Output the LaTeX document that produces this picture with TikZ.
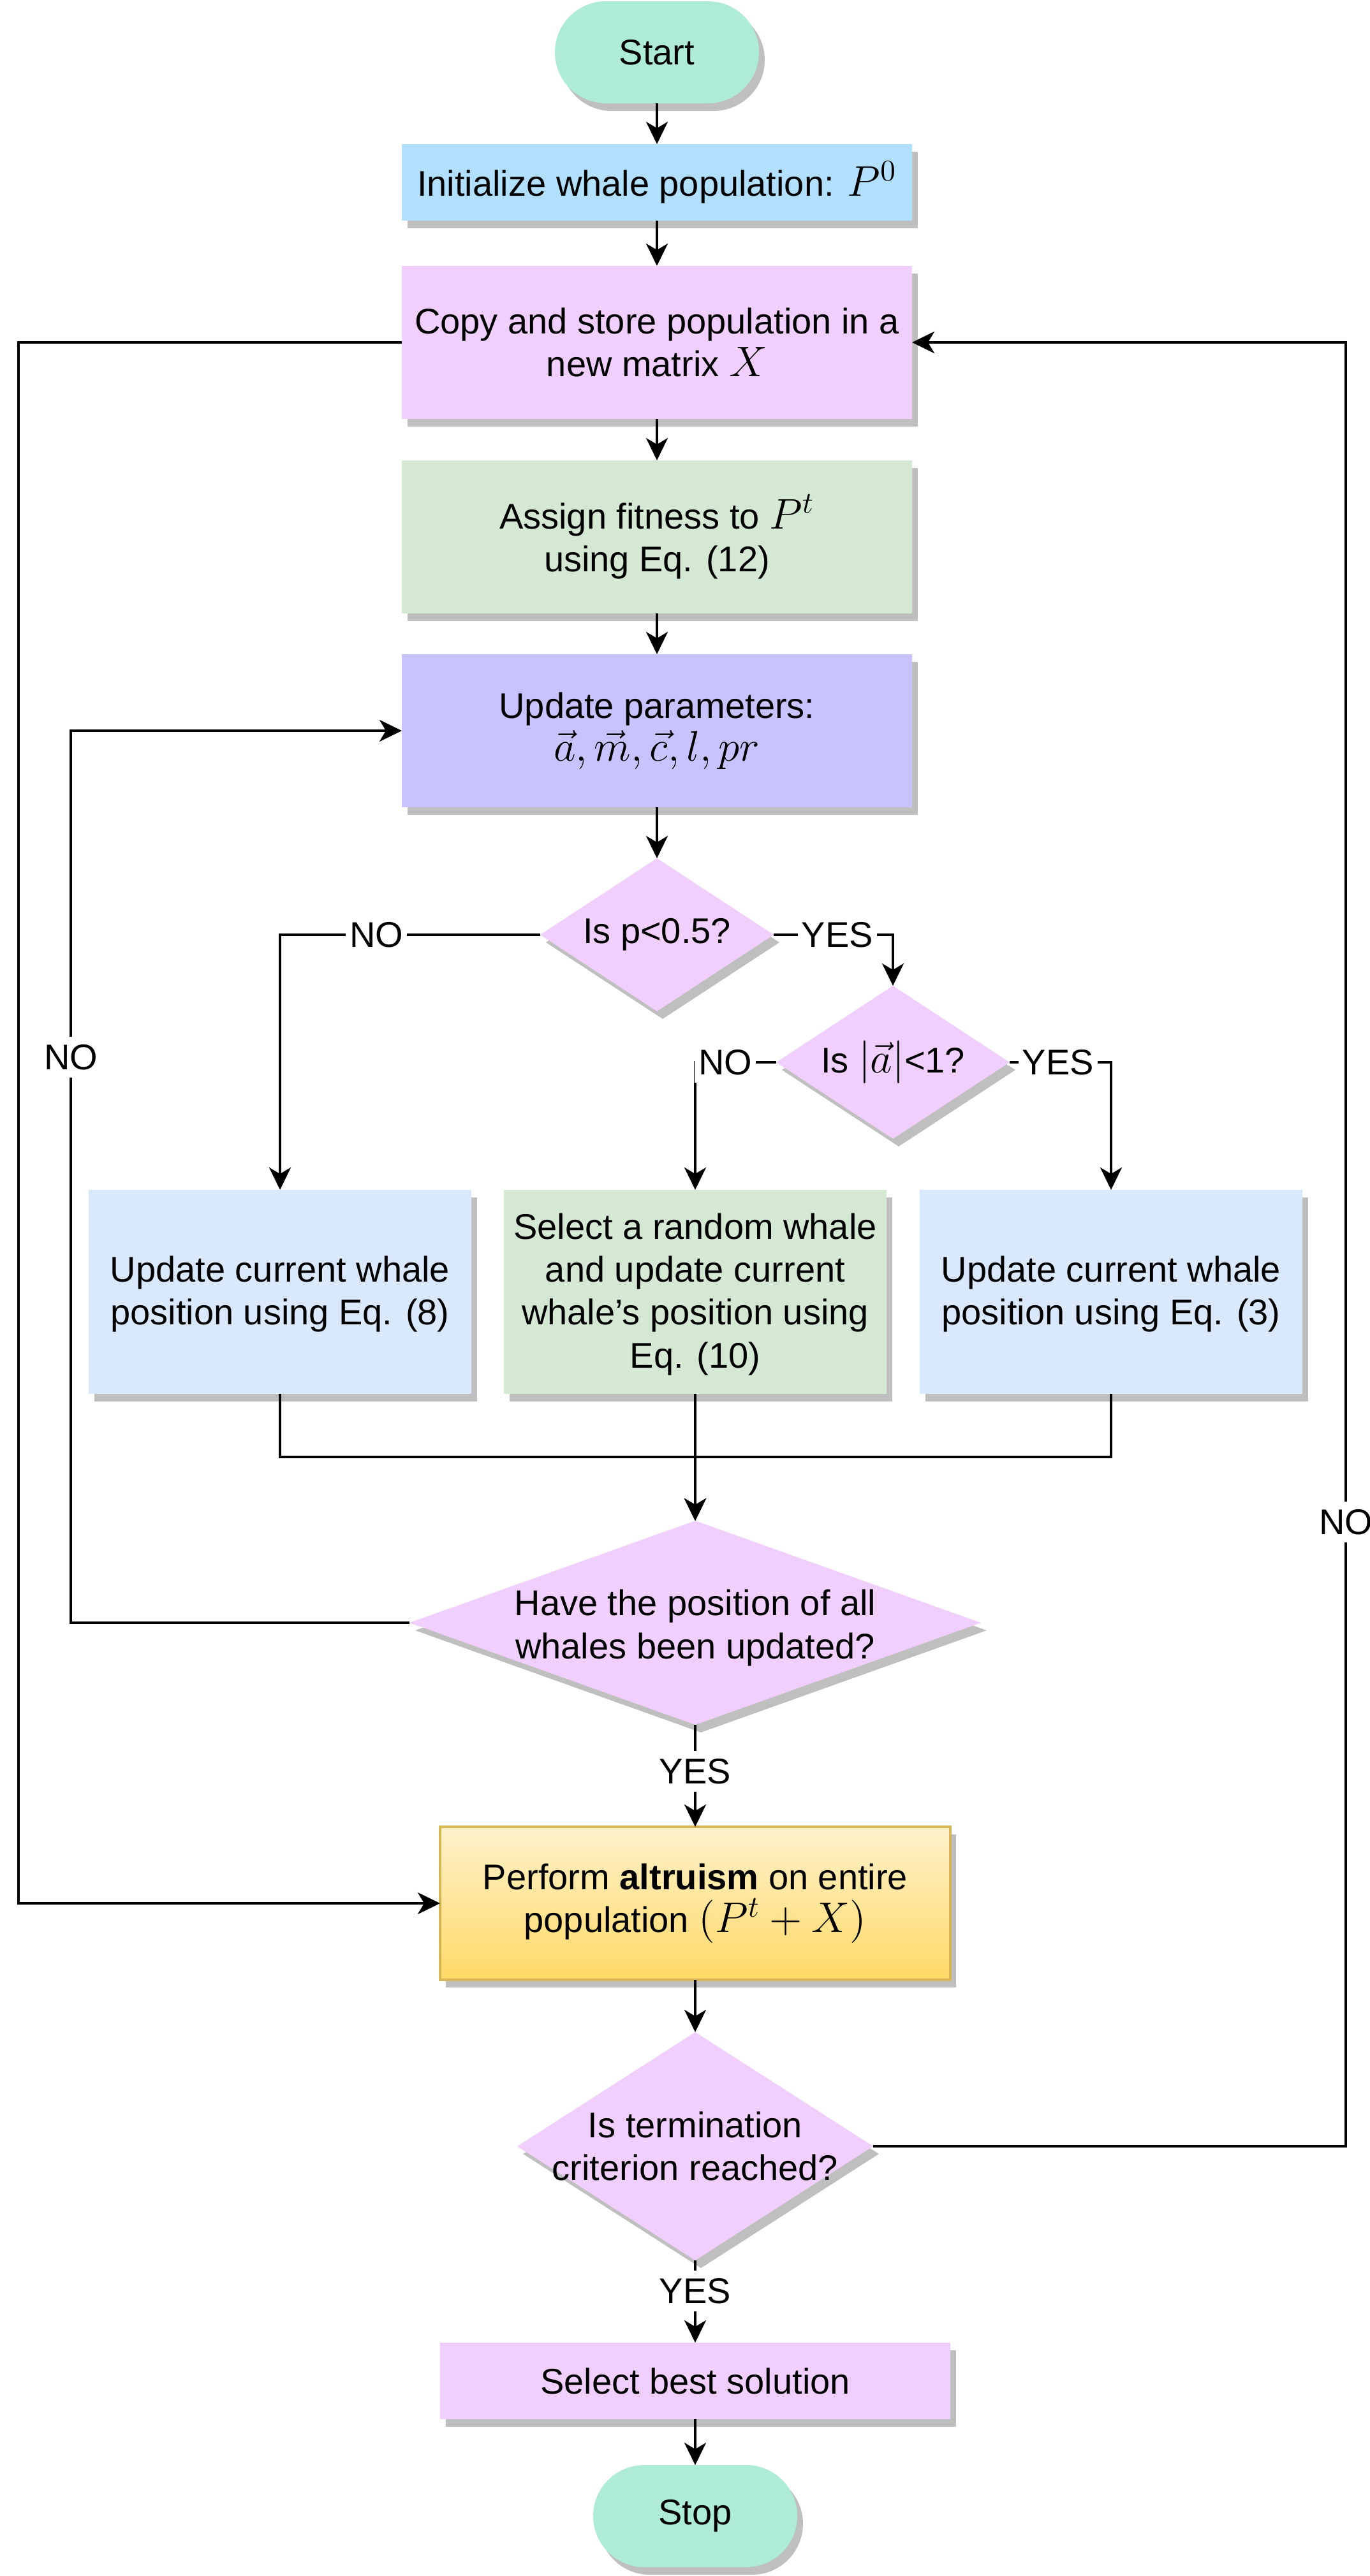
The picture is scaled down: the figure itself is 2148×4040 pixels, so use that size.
\RequirePackage{fix-cm}
\documentclass[tikz,border=0pt]{standalone}
\usepackage[no-math]{fontspec}
\setmainfont{Liberation Sans}
\usetikzlibrary{arrows.meta,shadows,shapes.geometric,shapes.misc}

\definecolor{mint}{HTML}{AEEBD9}
\definecolor{skyfill}{HTML}{B2DFFC}
\definecolor{lilac}{HTML}{F1CFFD}
\definecolor{sagefill}{HTML}{D5E8D4}
\definecolor{periwinkle}{HTML}{C8C3FC}
\definecolor{paleblue}{HTML}{DAE8FC}
\definecolor{goldtop}{HTML}{FFF2CC}
\definecolor{goldbottom}{HTML}{FFD966}
\definecolor{goldline}{HTML}{D6B656}
\definecolor{shadowgrey}{HTML}{BFBFBF}

% formulas are set a little larger than the sans text around them
\newcommand\mth[1]{{\fontsize{16.8pt}{16.8pt}\selectfont$#1$}}

\begin{document}
\begin{tikzpicture}[x=0.25pt,y=-0.25pt,
  font=\fontsize{14pt}{16.8pt}\selectfont,
  shadowed/.style={drop shadow={shadow xshift=2.25pt,shadow yshift=-3pt,fill=shadowgrey,opacity=1}},
  terminal/.style={rounded rectangle,fill=mint,minimum width=80pt,minimum height=40pt,inner sep=0pt,outer sep=0pt,shadowed},
  procbox/.style={rectangle,minimum width=200pt,minimum height=60pt,align=center,inner sep=0pt,outer sep=0pt,shadowed},
  posbox/.style={procbox,minimum width=150pt,minimum height=80pt},
  decision/.style={diamond,fill=lilac,inner sep=0pt,outer sep=0pt,shadowed},
  dtext/.style={align=center,inner sep=0pt},
  link/.style={line width=1pt,-{Stealth[length=8.75pt,width=8.5pt,inset=2.5pt]}},
  lbl/.style={fill=white,inner xsep=1.5pt,inner ysep=3pt}
]
\useasboundingbox (0,0) rectangle (2148,4040);

% main column
\node[terminal] (start) at (1030,82) {Start};
\node[procbox,fill=skyfill,minimum height=30pt] (init) at (1030,286) {Initialize whale population: \mth{P^0}};
\node[procbox,fill=lilac] (copy) at (1030,537) {Copy and store population in a\\new matrix \mth{X}};
\node[procbox,fill=sagefill] (fit) at (1030,842) {Assign fitness to \mth{P^t}\\using Eq. (12)};
\node[procbox,fill=periwinkle] (upd) at (1030,1146) {Update parameters:\\\mth{\vec{a}, \vec{m}, \vec{c}, l, pr}};

% decisions on p and |a|
\node[decision,minimum width=91.5pt,minimum height=60pt] (dp) at (1030,1466) {};
\node[dtext] (dpt) at (dp.center) {Is p<0.5?};
\node[decision,minimum width=91.5pt,minimum height=60pt] (da) at (1400,1666) {};
\node[dtext] (dat) at (da.center) {Is \mth{|\vec{a}|}<1?};

% position updates
\node[posbox,fill=paleblue,text depth=1pt] (encircle) at (439,2026) {Update current whale\\position using Eq. (8)};
\node[posbox,fill=sagefill,text depth=1pt] (search) at (1090,2026) {Select a random whale\\and update current\\whale's position using\\Eq. (10)};
\node[posbox,fill=paleblue,text depth=1pt] (spiral) at (1742,2026) {Update current whale\\position using Eq. (3)};

% all whales updated?
\node[decision,minimum width=224pt,minimum height=80pt] (dall) at (1090,2545) {};
\node[dtext,yshift=-2pt] (dallt) at (dall.center) {Have the position of all\\whales been updated?};

\node[procbox,top color=goldtop,bottom color=goldbottom,draw=goldline,line width=1pt] (alt) at (1090,2985) {Perform \textbf{altruism} on entire\\population \mth{(P^t+X)}};

\node[decision,minimum width=139.5pt,minimum height=89.5pt] (dend) at (1090,3366) {};
\node[dtext] (dendt) at (dend.center) {Is termination\\criterion reached?};

\node[procbox,fill=lilac,minimum height=30pt] (best) at (1090,3734) {Select best solution};
\node[terminal] (stop) at (1090,3946) {Stop};

% routing columns for the loops
\coordinate (outerx) at (29,0);
\coordinate (innerx) at (111,0);
\coordinate (rightx) at (2110,0);
\coordinate (merge) at (1090,2285);

% straight links
\draw[link] (start) -- (init);
\draw[link] (init) -- (copy);
\draw[link] (copy) -- (fit);
\draw[link] (fit) -- (upd);
\draw[link] (upd) -- (dp);

% branches
\draw[link] (dp.west) -| (encircle.north);
\draw[link] (dp.east) -| (da.north);
\draw[link] (da.west) -| (search.north);
\draw[link] (da.east) -| (spiral.north);

% merge into the check
\draw[link] (encircle.south) |- (merge) -- (dall.north);
\draw[link] (spiral.south) |- (merge) -- (dall.north);
\draw[link] (search.south) -- (dall.north);

% loops
\draw[link] (dall.west) -- (dall.west -| innerx) |- (upd.west);
\draw[link] (copy.west) -- (copy.west -| outerx) |- (alt.west);
\draw[link] (dend.east) -- (dend.east -| rightx) |- (copy.east);

\draw[link] (dall.south) -- (alt.north);
\draw[link] (alt) -- (dend.north);
\draw[link] (dend.south) -- (best.north);
\draw[link] (best) -- (stop);

% branch labels
\node[lbl] (lpno) at (590,1466) {NO};
\node[lbl] (lpyes) at (1313,1466) {YES};
\node[lbl] (lano) at (1137,1666) {NO};
\node[lbl] (layes) at (1659,1666) {YES};
\node[lbl] (lallno) at (111,1658) {NO};
\node[lbl] (lallyes) at (1090,2778) {YES};
\node[lbl] (lendno) at (2110,2387) {NO};
\node[lbl] (lendyes) at (1090,3593) {YES};
\end{tikzpicture}
\end{document}
